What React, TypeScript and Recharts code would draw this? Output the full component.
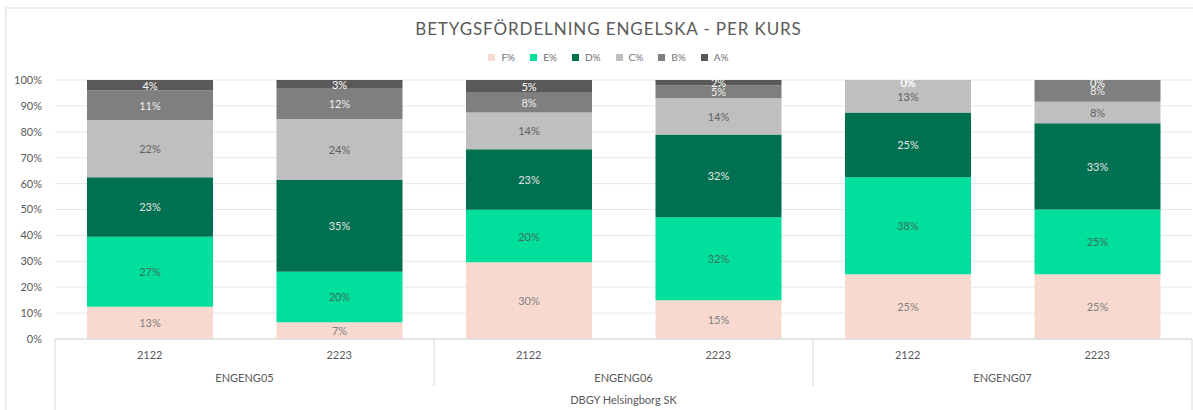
import React from "react";
import {
  BarChart,
  Bar,
  XAxis,
  YAxis,
  CartesianGrid,
  Legend,
  LabelList,
} from "recharts";

// course years (inner axis level) and course groups (middle level)
const years = ["2122", "2223", "2122", "2223", "2122", "2223"];
const courses = ["ENGENG05", "ENGENG05", "ENGENG06", "ENGENG06", "ENGENG07", "ENGENG07"];
const schoolLabel = "DBGY Helsingborg SK";

// grade shares in percent, per bar
const fShare = [12.5, 6.5, 29.6, 15, 25, 25];
const eShare = [27, 19.5, 20.3, 32, 37.5, 25];
const dShare = [23, 35.4, 23.4, 32, 25, 33.3];
const cShare = [22.1, 23.5, 14.2, 14, 12.5, 8.3];
const bShare = [11.4, 12, 7.6, 5, 0, 8.4];
const aShare = [4, 3.1, 4.9, 2, 0, 0];

const yTicks = [0, 10, 20, 30, 40, 50, 60, 70, 80, 90, 100];

const series = [
  { key: "F%", fill: "#f8d9d0", label: "#808080" },
  { key: "E%", fill: "#00df9c", label: "#3f6f5c" },
  { key: "D%", fill: "#007150", label: "#e4e4e4" },
  { key: "C%", fill: "#bfbfbf", label: "#5f5f5f" },
  { key: "B%", fill: "#7f7f7f", label: "#eeeeee" },
  { key: "A%", fill: "#595959", label: "#ffffff" },
];

const data = years.map((y, i) => ({
  year: y,
  course: courses[i],
  "F%": fShare[i],
  "E%": eShare[i],
  "D%": dShare[i],
  "C%": cShare[i],
  "B%": bShare[i],
  "A%": aShare[i],
}));

const FONT = "Lato, 'Open Sans', sans-serif";
const TEXT = "#595959";
const LINE = "#d9d9d9";

function MultiLevelTick(props: any) {
  const { x, y, payload, index, visibleTicksCount } = props;
  const half = payload.offset || 94.75;
  const count = visibleTicksCount || years.length;
  const idx = index ?? payload.index;
  const isGroupStart = idx === 0 || courses[idx] !== courses[idx - 1];
  const isLast = idx === count - 1;
  return (
    <g fontFamily={FONT} fontSize={11} fill={TEXT}>
      <text x={x} y={y + 20} textAnchor="middle">
        {payload.value}
      </text>
      {isGroupStart && (
        <>
          <line
            x1={x - half}
            x2={x - half}
            y1={y}
            y2={idx === 0 ? y + 80 : y + 47}
            stroke={LINE}
          />
          <text x={x + half} y={y + 43} textAnchor="middle">
            {courses[idx]}
          </text>
        </>
      )}
      {idx === 0 && (
        <text x={x - half + count * half} y={y + 65} textAnchor="middle">
          {schoolLabel}
        </text>
      )}
      {isLast && (
        <line x1={x + half} x2={x + half} y1={y} y2={y + 80} stroke={LINE} />
      )}
    </g>
  );
}

// segment label; empty (0 %) segments above it get their "0%" drawn at its top,
// since Recharts does not render zero-height segments
function makeLabel(seriesIdx: number) {
  return (props: any) => {
    const { x, y, width, height, value, index } = props;
    if (value === undefined || value === null || Number(value) === 0) return null;
    const row: any = data[index];
    const zeros: string[] = [];
    for (let k = seriesIdx + 1; k < series.length; k++) {
      if (Number(row[series[k].key]) === 0) zeros.push(series[k].label);
      else break;
    }
    const cx = Number(x) + Number(width) / 2;
    const top = Math.min(Number(y), Number(y) + Number(height));
    return (
      <g fontFamily={FONT} fontSize={11}>
        <text
          x={cx}
          y={Number(y) + Number(height) / 2}
          textAnchor="middle"
          dominantBaseline="central"
          fill={series[seriesIdx].label}
        >
          {`${Math.round(Number(value))}%`}
        </text>
        {zeros.map((c, j) => (
          <text
            key={j}
            x={cx}
            y={top + 2}
            textAnchor="middle"
            dominantBaseline="central"
            fill={c}
          >
            0%
          </text>
        ))}
      </g>
    );
  };
}

function renderLegend() {
  return (
    <div
      style={{
        display: "flex",
        justifyContent: "center",
        gap: 15,
        fontFamily: FONT,
        fontSize: 10,
        color: "#6f6f6f",
        height: 14,
        alignItems: "center",
      }}
    >
      {series.map((s) => (
        <span key={s.key} style={{ display: "flex", alignItems: "center" }}>
          <span
            style={{
              width: 7,
              height: 7,
              background: s.fill,
              display: "inline-block",
              marginRight: 6,
            }}
          />
          {s.key}
        </span>
      ))}
    </div>
  );
}

export default function App() {
  return (
    <div
      style={{
        position: "absolute",
        left: 0,
        top: 0,
        width: 1193,
        height: 410,
        background: "#fff",
        overflow: "hidden",
      }}
    >
      <div
        style={{
          position: "absolute",
          left: 5,
          top: 7,
          width: 1200,
          height: 420,
          borderLeft: "2px solid #ececec",
          borderTop: "2px solid #ececec",
        }}
      />
      <div
        style={{
          position: "absolute",
          left: 12,
          top: 18,
          width: 1193,
          textAlign: "center",
          fontFamily: FONT,
          fontSize: 17,
          letterSpacing: 0.9,
          color: "#5a5a5a",
        }}
      >
        BETYGSFÖRDELNING ENGELSKA - PER KURS
      </div>
      <div style={{ position: "absolute", left: 0, top: 0 }}>
        <BarChart
          width={1193}
          height={410}
          data={data}
          margin={{ top: 66, right: 1, bottom: 0, left: 0 }}
        >
          <CartesianGrid vertical={false} stroke="#e8e8e8" />
          <XAxis
            dataKey="year"
            interval={0}
            height={71}
            tickLine={false}
            tickSize={0}
            tickMargin={0}
            axisLine={{ stroke: LINE }}
            tick={<MultiLevelTick />}
          />
          <YAxis
            width={55}
            domain={[0, 100]}
            ticks={yTicks}
            allowDataOverflow
            tickFormatter={(v: number) => `${v}%`}
            axisLine={false}
            tickLine={false}
            tickSize={0}
            tickMargin={13}
            tick={{ fontFamily: FONT, fontSize: 11, fill: TEXT }}
          />
          <Legend
            verticalAlign="top"
            align="center"
            content={renderLegend}
            wrapperStyle={{ top: 50, left: 12, width: 1193 }}
          />
          {series.map((s, si) => (
            <Bar
              key={s.key}
              dataKey={s.key}
              stackId="grades"
              fill={s.fill}
              barSize={126}
              isAnimationActive={false}
            >
              <LabelList dataKey={s.key} content={makeLabel(si)} />
            </Bar>
          ))}
        </BarChart>
      </div>
    </div>
  );
}
